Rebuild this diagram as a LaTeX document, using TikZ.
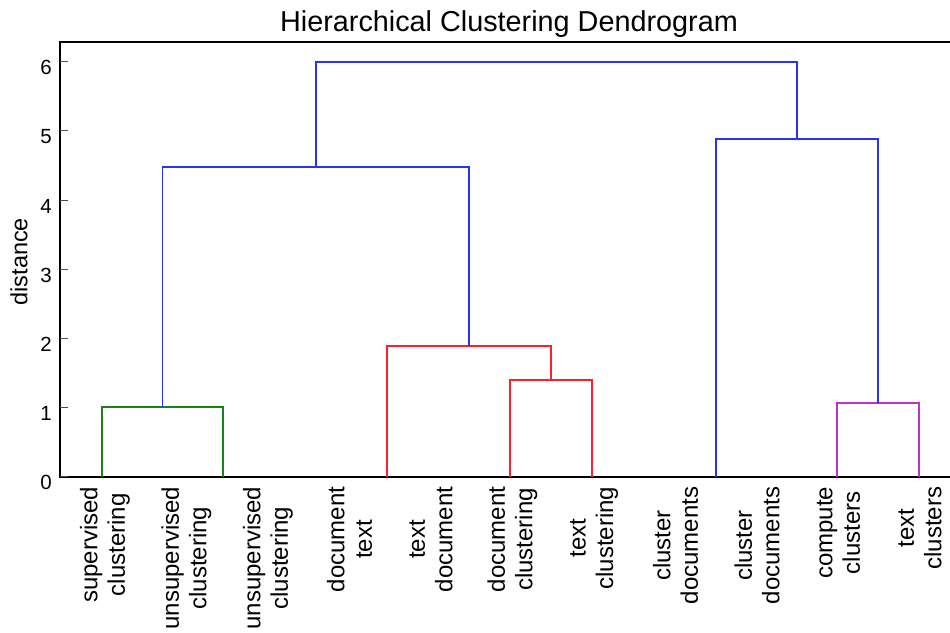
\documentclass[tikz,border=0pt]{standalone}
\usepackage{fontspec}
\setmainfont{Liberation Sans}

\definecolor{dendroblue}{RGB}{40,50,255}
\definecolor{dendrored}{RGB}{255,30,45}
\definecolor{dendrogreen}{RGB}{25,130,25}
\definecolor{dendromagenta}{RGB}{190,50,200}

\tikzset{
  axisline/.style={line width=2pt, black},
  tickline/.style={line width=1pt, black!70},
  ticklabel/.style={anchor=east, inner sep=0pt, font=\fontsize{20.5}{24}\selectfont},
  leaflabel/.style={rotate=90, anchor=east, align=center, inner sep=0pt, font=\fontsize{24}{27.5}\selectfont},
  link/.style={line width=1.7pt}
}

\begin{document}
\begin{tikzpicture}[x=1pt, y=69.2pt]
   \useasboundingbox (0,-2.254) rectangle (950,6.893);

   % axes
   \draw[axisline] (955,6.29) -- (60,6.29) -- (60,0) -- (955,0);
   \draw[tickline] (60,0) -- (68,0);
   \draw[tickline] (60,1) -- (68,1);
   \draw[tickline] (60,2) -- (68,2);
   \draw[tickline] (60,3) -- (68,3);
   \draw[tickline] (60,4) -- (68,4);
   \draw[tickline] (60,5) -- (68,5);
   \draw[tickline] (60,6) -- (68,6);
   \node[ticklabel] (t0) at (52,-0.085) {0};
   \node[ticklabel] (t1) at (52,0.915) {1};
   \node[ticklabel] (t2) at (52,1.915) {2};
   \node[ticklabel] (t3) at (52,2.915) {3};
   \node[ticklabel] (t4) at (52,3.915) {4};
   \node[ticklabel] (t5) at (52,4.915) {5};
   \node[ticklabel] (t6) at (52,5.915) {6};
   \node[rotate=90, font=\fontsize{23.5}{28}\selectfont] (ylabel) at (19,3.11) {distance};
   \node[anchor=base, font=\fontsize{28.8}{33}\selectfont] (title) at (509,6.431) {Hierarchical Clustering Dendrogram};

   % leaves
   \coordinate (l1) at (102,0);
   \coordinate (l2) at (223,0);
   \coordinate (l3) at (386.7,0);
   \coordinate (l4) at (510.3,0);
   \coordinate (l5) at (591.7,0);
   \coordinate (l6) at (715.7,0);
   \coordinate (l7) at (837,0);
   \coordinate (l8) at (918.7,0);

   % merges
   \coordinate (mg) at (162.5,1.016);
   \coordinate (mr1) at (551,1.40);
   \coordinate (mr2) at (468.85,1.897);
   \coordinate (mm) at (877.85,1.065);
   \coordinate (mb1) at (315.7,4.484);
   \coordinate (mb2) at (796.8,4.88);
   \coordinate (mtop) at (556.25,6.0);

   \draw[link, dendrogreen] (l1) |- (mg) -| (l2);
   \draw[link, dendrored] (l4) |- (mr1) -| (l5);
   \draw[link, dendrored] (l3) |- (mr2) -| (mr1);
   \draw[link, dendromagenta] (l7) |- (mm) -| (l8);
   \draw[link, dendroblue] (mg) |- (mb1) -| (mr2);
   \draw[link, dendroblue] (l6) |- (mb2) -| (mm);
   \draw[link, dendroblue] (mb1) |- (mtop) -| (mb2);

   % leaf labels
   \node[leaflabel] (n1) at (105,-0.14) {supervised\\clustering};
   \node[leaflabel] (n2) at (186.5,-0.14) {unsupervised\\clustering};
   \node[leaflabel] (n3) at (268,-0.14) {unsupervised\\clustering};
   \node[leaflabel] (n4) at (349.5,-0.14) {document\\text};
   \node[leaflabel] (n5) at (431,-0.14) {text\\document};
   \node[leaflabel] (n6) at (512.5,-0.14) {document\\clustering};
   \node[leaflabel] (n7) at (594,-0.14) {text\\clustering};
   \node[leaflabel] (n8) at (675.5,-0.14) {cluster\\documents};
   \node[leaflabel] (n9) at (757,-0.14) {cluster\\documents};
   \node[leaflabel] (n10) at (838.5,-0.14) {compute\\clusters};
   \node[leaflabel] (n11) at (920,-0.14) {text\\clusters};
\end{tikzpicture}
\end{document}
